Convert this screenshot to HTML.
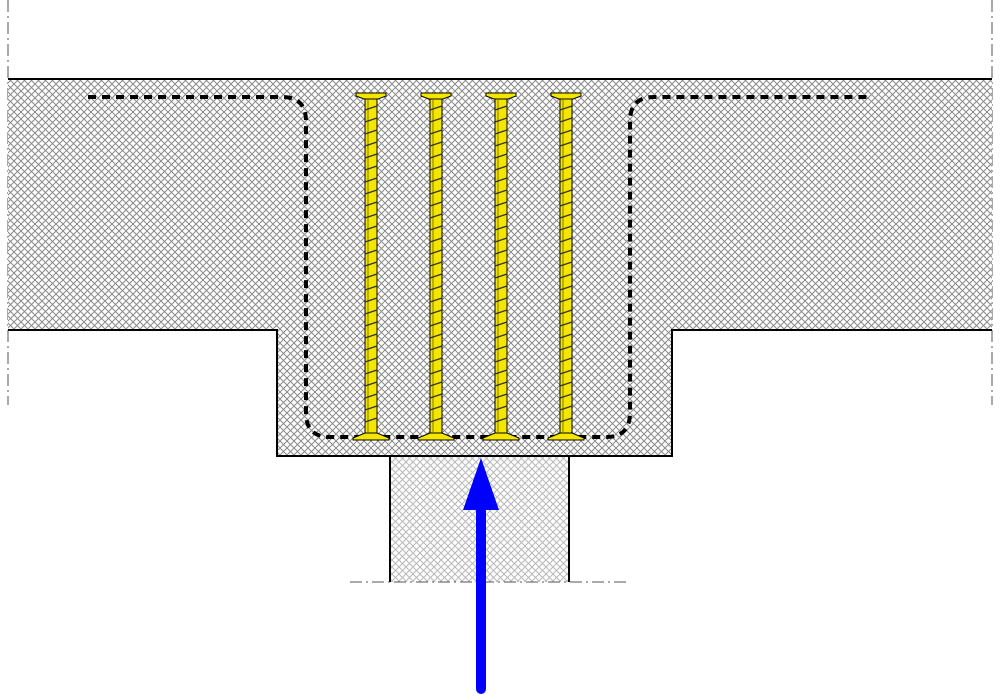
<!DOCTYPE html>
<html><head><meta charset="utf-8"><style>html,body{margin:0;padding:0;background:#fff;}svg{display:block}</style></head>
<body>
<svg width="1000" height="700" viewBox="0 0 1000 700" xmlns="http://www.w3.org/2000/svg">
<defs>
<pattern id="h" width="7" height="7" patternUnits="userSpaceOnUse">
<rect width="7" height="7" fill="#fff"/>
<path d="M0,0 L7,7 M7,0 L0,7" stroke="#8a8a8a" stroke-width="1"/>
</pattern>
<pattern id="h2" width="7" height="7" patternUnits="userSpaceOnUse">
<rect width="7" height="7" fill="#fff"/>
<path d="M0,0 L7,7 M7,0 L0,7" stroke="#b8b8b8" stroke-width="1"/>
</pattern>
<g id="screw">
<path d="M-15,93 L15,93 L15,96 L7,99 L-7,99 L-15,96 Z" fill="#f5e600" stroke="#000" stroke-width="1"/>
<rect x="-6" y="99" width="12" height="334" fill="#f5e600" stroke="#000" stroke-width="1"/>
<line x1="-3" y1="100" x2="-3" y2="432" stroke="#a89d00" stroke-width="1.5"/>
<path d="M-6,433 L6,433 L18,438 L18,440 L-18,440 L-18,438 Z" fill="#f5e600" stroke="#000" stroke-width="1"/>
</g>
<path id="thr" d="M-6,110 l12,-4 M-6,122 l12,-4 M-6,134 l12,-4 M-6,146 l12,-4 M-6,158 l12,-4 M-6,170 l12,-4 M-6,182 l12,-4 M-6,194 l12,-4 M-6,206 l12,-4 M-6,218 l12,-4 M-6,230 l12,-4 M-6,242 l12,-4 M-6,254 l12,-4 M-6,266 l12,-4 M-6,278 l12,-4 M-6,290 l12,-4 M-6,302 l12,-4 M-6,314 l12,-4 M-6,326 l12,-4 M-6,338 l12,-4 M-6,350 l12,-4 M-6,362 l12,-4 M-6,374 l12,-4 M-6,386 l12,-4 M-6,398 l12,-4 M-6,410 l12,-4 M-6,422 l12,-4"/>
</defs>
<line x1="8" y1="0" x2="8" y2="405" stroke="#555" stroke-width="1" stroke-dasharray="12,4,2,4"/>
<line x1="992" y1="0" x2="992" y2="405" stroke="#555" stroke-width="1" stroke-dasharray="12,4,2,4"/>
<rect x="390" y="456" width="179" height="126" fill="url(#h2)"/>
<path d="M390,456 V582 M569,456 V582" stroke="#000" stroke-width="2"/>
<line x1="350" y1="582" x2="630" y2="582" stroke="#555" stroke-width="1" stroke-dasharray="12,4,2,4"/>
<path d="M8,79 H992 V330 H672 V456 H277 V330 H8 Z" fill="url(#h)"/>
<path d="M8,79 H992 M992,330 H672 V456 H277 V330 H8" fill="none" stroke="#000" stroke-width="2"/>
<path d="M88,97 H282 Q306,97 306,121 V413 Q306,437 330,437 H606 Q630,437 630,413 V121 Q630,97 654,97 H872" fill="none" stroke="#000" stroke-width="4" stroke-dasharray="8,6"/>
<use href="#screw" x="371"/>
<use href="#screw" x="436"/>
<use href="#screw" x="501"/>
<use href="#screw" x="566"/>
<g stroke="#333" stroke-width="1.4" fill="none">
<use href="#thr" x="371"/>
<use href="#thr" x="436"/>
<use href="#thr" x="501"/>
<use href="#thr" x="566"/>
</g>
<line x1="481" y1="505" x2="481" y2="689" stroke="#0000ff" stroke-width="10" stroke-linecap="round"/>
<polygon points="463,510 499,510 481,458" fill="#0000ff"/>
</svg>
</body></html>
